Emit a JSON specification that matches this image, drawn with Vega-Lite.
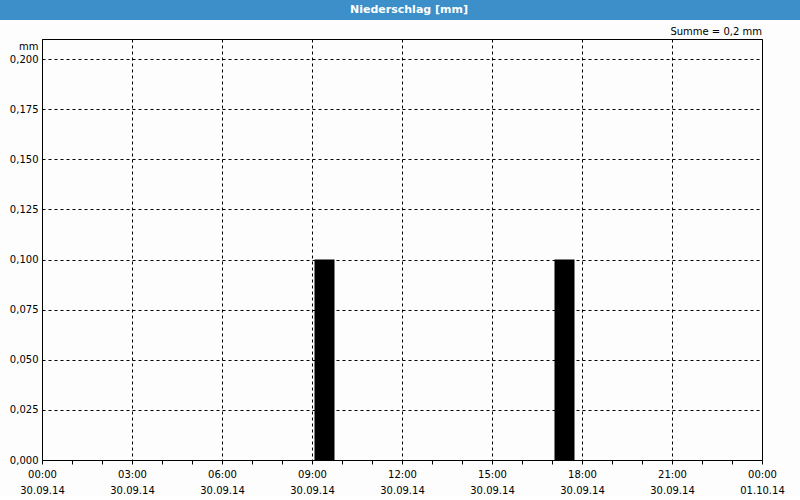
{
  "$schema": "https://vega.github.io/schema/vega-lite/v6.json",
  "background": "#fcfdfc",
  "padding": 0,
  "spacing": 6,
  "config": {
    "font": "DejaVu Sans",
    "axis": {"labelFontSize": 10, "labelColor": "black", "titleColor": "black", "labelFont": "DejaVu Sans", "titleFont": "DejaVu Sans"},
    "title": {"font": "DejaVu Sans"}
  },
  "vconcat": [
    {
      "width": 800,
      "height": 20,
      "view": {"fill": "#3c8fc8", "stroke": null},
      "data": {"values": [{"titel": "Niederschlag [mm]"}]},
      "mark": {"type": "text", "color": "white", "font": "DejaVu Sans", "fontWeight": "bold", "fontSize": 11, "dx": 9},
      "encoding": {"text": {"field": "titel", "type": "nominal"}}
    },
    {
      "spacing": 0,
      "hconcat": [
        {
          "width": 1,
          "height": 421,
          "view": {"fill": "#fcfdfc", "stroke": null},
          "data": {"values": [{"leer": ""}]},
          "mark": {"type": "text"},
          "encoding": {"text": {"field": "leer", "type": "nominal"}}
        },
        {
          "width": 720,
          "height": 421,
          "title": {"text": "Summe = 0,2 mm", "anchor": "end", "frame": "group", "fontSize": 10, "fontWeight": "normal", "color": "black", "offset": 2},
          "view": {"stroke": "black", "strokeWidth": 1},
          "data": {"values": [
            {"von": "2014-09-30T09:05:00", "bis": "2014-09-30T09:45:00", "mm": 0.1},
            {"von": "2014-09-30T17:05:00", "bis": "2014-09-30T17:45:00", "mm": 0.1}
          ]},
          "mark": {"type": "bar", "color": "black"},
          "encoding": {
            "x": {
              "field": "von",
              "type": "temporal",
              "scale": {"domain": [{"year": 2014, "month": 9, "date": 30, "hours": 0}, {"year": 2014, "month": 10, "date": 1, "hours": 0}], "nice": false},
              "axis": {
                "title": null,
                "tickCount": 24,
                "labelExpr": "hours(datum.value) % 3 == 0 ? [timeFormat(datum.value, '%H:%M'), timeFormat(datum.value, '%d.%m.%y')] : ''",
                "labelOverlap": false,
                "labelFlush": false,
                "labelBound": false,
                "labelPadding": 5,
                "labelLineHeight": 16,
                "domain": false,
                "ticks": true,
                "tickSize": 4,
                "tickColor": "black",
                "grid": true,
                "gridColor": "black",
                "gridDash": [3, 3],
                "gridOpacity": {"condition": {"test": "hours(datum.value) % 3 == 0", "value": 1}, "value": 0}
              }
            },
            "x2": {"field": "bis"},
            "y": {
              "field": "mm",
              "type": "quantitative",
              "scale": {"domain": [0, 0.21], "nice": false},
              "axis": {
                "values": [0, 0.025, 0.05, 0.075, 0.1, 0.125, 0.15, 0.175, 0.2],
                "labelExpr": "replace(format(datum.value, '.3f'), '.', ',')",
                "title": "mm",
                "titleAngle": 0,
                "titleAlign": "right",
                "titleBaseline": "middle",
                "titleX": -4,
                "titleY": 7,
                "titleFontWeight": "normal",
                "titleFontSize": 10,
                "ticks": false,
                "domain": false,
                "labelPadding": 4,
                "minExtent": 40,
                "grid": true,
                "gridColor": "black",
                "gridDash": [3, 3],
                "gridOpacity": 1
              }
            },
            "y2": {"datum": 0}
          }
        }
      ]
    }
  ]
}
